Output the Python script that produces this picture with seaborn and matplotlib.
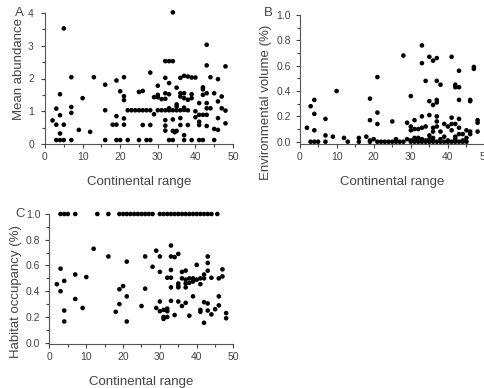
import matplotlib
matplotlib.use("Agg")
import matplotlib.pyplot as plt
from matplotlib.ticker import MultipleLocator, FormatStrFormatter
import seaborn as sns
import pandas as pd

# ---- panel A: mean abundance ----
a_x = [2, 3, 3, 3, 4, 4, 4, 4, 5, 5, 5, 7, 7, 7, 7, 9, 10, 12, 13, 16, 16, 16, 18,
       19, 19, 19, 19, 20, 20, 21, 21, 21, 21, 21, 22,
       22, 23, 24, 25, 26, 27, 28, 25, 26, 25, 26, 27, 28, 28, 28,
       29, 29, 30, 30, 30, 30, 31, 32, 33, 34, 35, 36, 31,
       32, 32, 33, 34, 32, 32, 32, 32, 32,
       33, 33, 33, 33, 34, 34, 34, 34.5, 35, 34,
       35, 35, 35, 36, 36, 36, 36, 36,
       37, 37, 37, 37, 37, 37, 37,
       38, 38, 38, 38, 39, 40, 39, 39, 39, 40, 40,
       41, 41, 41, 41, 41, 42, 42, 42, 42, 42,
       43, 43, 43, 43, 43, 43, 43, 44, 44,
       45, 45, 45, 46, 46, 46, 46, 47, 47, 48, 48, 48]
a_y = [0.72, 1.08, 0.59, 0.12, 1.52, 0.88, 0.32, 0.12, 3.53, 0.59, 0.12, 2.04, 1.13, 0.95, 0.12, 0.43, 1.40, 0.37, 2.04, 1.81, 1.03, 0.12, 0.59,
       1.94, 0.85, 0.59, 0.12, 1.61, 0.12, 2.04, 1.46, 1.34, 0.78, 0.59, 0.12,
       1.03, 1.03, 1.03, 1.03, 1.03, 1.03, 1.03, 1.59, 1.62, 0.12, 0.58, 0.12, 0.12, 2.18, 0.58,
       0.91, 1.43, 1.50, 1.78, 1.43, 1.03, 1.03, 1.03, 1.03, 1.03, 1.03, 1.03, 1.37,
       2.02, 2.53, 2.53, 2.53, 1.55, 1.38, 0.73, 0.56, 0.41,
       1.86, 1.52, 1.09, 0.12, 4.02, 0.75, 0.40, 0.36, 0.40, 0.12,
       1.72, 1.21, 1.14, 2.02, 1.45, 1.55, 0.79, 0.58,
       2.08, 1.55, 1.40, 1.11, 1.04, 0.27, 0.12,
       2.06, 1.35, 0.58, 1.03, 2.03, 2.03, 1.52, 1.40, 0.12, 1.00, 0.82,
       1.25, 0.89, 0.68, 0.58, 0.12, 1.73, 1.67, 1.50, 0.89, 0.12,
       3.03, 2.40, 1.55, 1.25, 1.09, 0.89, 0.55, 2.04, 1.09,
       1.55, 0.46, 0.12, 1.98, 1.30, 0.79, 0.43, 1.45, 1.09, 2.37, 1.02, 0.63]

# ---- panel B: environmental volume ----
b_x = [2, 3, 3, 4, 4, 4, 4, 5, 7, 7, 7, 9, 10, 12, 13, 16, 16, 18, 19, 19, 19, 19,
       20, 21, 21, 21, 21, 22, 23, 24, 25, 26, 27, 28, 25, 26, 28, 29, 30, 30, 30,
       31, 31, 32, 33, 33, 33, 33, 34, 34, 35, 35, 35, 35, 36, 36, 36, 36,
       37, 37, 37, 37, 37, 37, 37, 38, 38, 39, 39, 40, 41, 41, 41, 41,
       42, 42, 42, 42, 43, 43, 43, 43, 43, 43, 44, 45, 46, 46, 46, 46, 47, 47,
       48, 48, 48,
       29, 30, 31, 31, 32, 32, 33, 33, 34, 35, 36, 36, 38, 40, 42, 44, 45,
       30, 31, 32, 33, 34, 35, 36, 37, 38, 39, 40, 41, 42, 43, 44, 45]
b_y = [0.11, 0.28, 0.0, 0.33, 0.22, 0.09, 0.0, 0.0, 0.18, 0.05, 0.0, 0.04, 0.40, 0.03, 0.0, 0.03, 0.0, 0.04, 0.34, 0.17, 0.01, 0.0,
       0.02, 0.51, 0.23, 0.14, 0.0, 0.0, 0.0, 0.0, 0.0, 0.0, 0.0, 0.0, 0.16, 0.02, 0.68, 0.15, 0.36, 0.12, 0.09,
       0.17, 0.10, 0.10, 0.76, 0.62, 0.20, 0.11, 0.48, 0.12, 0.67, 0.32, 0.21, 0.05, 0.64, 0.29, 0.11, 0.08,
       0.66, 0.48, 0.33, 0.31, 0.20, 0.16, 0.12, 0.45, 0.08, 0.14, 0.04, 0.12, 0.67, 0.19, 0.14, 0.09,
       0.45, 0.43, 0.14, 0.04, 0.43, 0.56, 0.33, 0.18, 0.11, 0.06, 0.06, 0.09, 0.08, 0.33, 0.32, 0.06, 0.59, 0.575,
       0.17, 0.15, 0.08,
       0.02, 0.01, 0.03, 0.01, 0.02, 0.03, 0.01, 0.02, 0.01, 0.02, 0.01, 0.03, 0.02, 0.01, 0.02, 0.01, 0.03,
       0.0, 0.0, 0.0, 0.0, 0.0, 0.0, 0.0, 0.0, 0.0, 0.0, 0.0, 0.0, 0.0, 0.0, 0.0, 0.0]

# ---- panel C: habitat occupancy ----
c_x = [3, 4, 5, 7, 13, 16, 19, 20, 21, 22, 23, 24, 25, 26, 27, 28,
       30, 31, 32, 33, 34, 35, 36, 37, 38, 39, 40, 41, 42, 43, 44, 45.6,
       2, 3, 3, 4, 4, 4, 7, 7, 9, 10, 12, 16, 18, 19, 19, 20, 21, 21, 21,
       25, 26, 26, 28, 29, 29, 30, 30, 30, 30, 31, 31, 31, 32, 32, 32, 32,
       33, 33, 33, 33, 33, 33, 34, 34, 35, 35, 35, 35, 35, 36, 36, 36,
       37, 37, 37, 37, 37, 38, 38, 38, 39, 39, 39, 40, 40, 41, 41, 41, 41,
       42, 42, 42, 42, 43, 43, 43, 43, 43, 44, 44, 45, 46, 46, 46, 47, 47, 48, 48]
c_y = [1.0] * 32 + \
      [0.455, 0.575, 0.40, 0.48, 0.25, 0.165, 0.53, 0.34, 0.27, 0.51, 0.73, 0.67, 0.24, 0.415, 0.30, 0.44, 0.63, 0.36, 0.165,
       0.285, 0.67, 0.42, 0.59, 0.715, 0.27, 0.67, 0.55, 0.32, 0.245, 0.255, 0.20, 0.185, 0.245, 0.265, 0.20, 0.505,
       0.755, 0.67, 0.565, 0.505, 0.43, 0.325, 0.665, 0.215, 0.69, 0.46, 0.44, 0.43, 0.32, 0.55, 0.50, 0.285,
       0.56, 0.49, 0.46, 0.43, 0.31, 0.50, 0.465, 0.21, 0.50, 0.475, 0.36, 0.49, 0.605, 0.50, 0.455, 0.255, 0.24,
       0.50, 0.53, 0.315, 0.155, 0.67, 0.62, 0.56, 0.305, 0.25, 0.505, 0.22, 0.26, 0.50, 0.36, 0.29, 0.57, 0.515, 0.23, 0.19]

xlabel = "Continental range"
grey = "#444444"

sns.set_style("ticks")
plt.rcParams["font.family"] = ["Liberation Sans", "DejaVu Sans"]
plt.rcParams["text.color"] = grey
plt.rcParams["axes.labelcolor"] = grey
plt.rcParams["xtick.color"] = grey
plt.rcParams["ytick.color"] = grey

fig = plt.figure(figsize=(4.85, 3.88), dpi=100)
W, H = 485, 388


def add_ax(left, right, top, bottom):
    return fig.add_axes([left / W, 1 - bottom / H, (right - left) / W, (bottom - top) / H])


ax_a = add_ax(45, 233, 13, 144)
ax_b = add_ax(299.5, 485, 15, 144)
ax_c = add_ax(49.5, 233.5, 214, 344)

# ax, x, y, ylabel, letter, letter pos (px), ylim, major, minor, fmt, ylabel coords, ytick pad
panels = [
    (ax_a, a_x, a_y, "Mean abundance", "A", (19, 13), (0, 4), 1, 0.5, "%d", (-0.105, 0.573), 5),
    (ax_b, b_x, b_y, "Environmental volume (%)", "B", (268, 13), (-0.018, 1.0), 0.2, 0.1, "%.1f", (-0.15, 0.32), 3),
    (ax_c, c_x, c_y, "Habitat occupancy (%)", "C", (20, 214), (-0.01, 1.0), 0.2, 0.1, "%.1f", (-0.15, 0.40), 3.5),
]

for ax, xs, ys, ylab, letter, lpos, ylim, major, minor, fmt, lcoords, ypad in panels:
    df = pd.DataFrame({"x": xs, "y": ys})
    sns.scatterplot(data=df, x="x", y="y", ax=ax, color="black", s=11,
                    edgecolor="none", clip_on=False)
    ax.set_xlim(0, 50)
    ax.set_ylim(*ylim)
    ax.xaxis.set_major_locator(MultipleLocator(10))
    ax.xaxis.set_minor_locator(MultipleLocator(5))
    ax.yaxis.set_major_locator(MultipleLocator(major))
    ax.yaxis.set_minor_locator(MultipleLocator(minor))
    ax.yaxis.set_major_formatter(FormatStrFormatter(fmt))
    ax.tick_params(which="major", length=3, width=0.8, labelsize=7.5)
    ax.tick_params(which="minor", length=2, width=0.8)
    ax.tick_params(axis="x", pad=3)
    ax.tick_params(axis="y", pad=ypad)
    for side in ["left", "bottom"]:
        ax.spines[side].set_color("#555555")
        ax.spines[side].set_linewidth(0.8)
    sns.despine(ax=ax)
    ax.set_xlabel(xlabel, fontsize=9.5, labelpad=10)
    ax.set_ylabel(ylab, fontsize=9.5)
    ax.yaxis.set_label_coords(*lcoords)
    fig.text(lpos[0] / W, 1 - lpos[1] / H, letter, fontsize=9.5,
             ha="center", va="center")

fig.savefig("out.png", dpi=100)
